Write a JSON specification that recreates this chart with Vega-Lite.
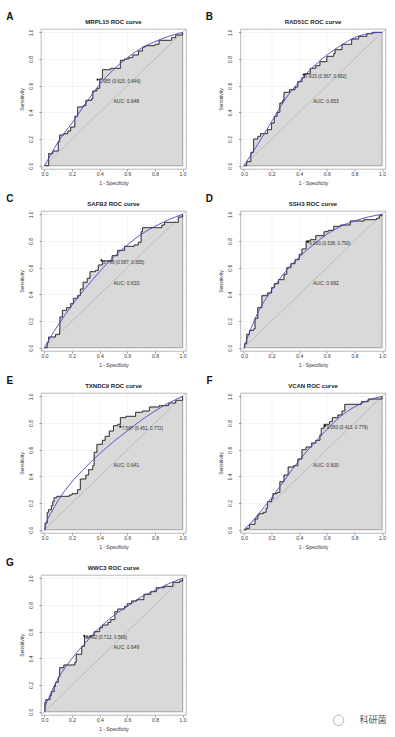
{
"$schema": "https://vega.github.io/schema/vega-lite/v6.json",
"background": "white",
"padding": {"left": 5, "top": 11, "right": 0, "bottom": 0},
"data": {"values": [
{"g":"MRPL15","k":"s","x":0,"y":0},{"g":"MRPL15","k":"s","x":0.03,"y":0.09},{"g":"MRPL15","k":"s","x":0.06,"y":0.11},{"g":"MRPL15","k":"s","x":0.1,"y":0.18},{"g":"MRPL15","k":"s","x":0.11,"y":0.23},{"g":"MRPL15","k":"s","x":0.14,"y":0.24},{"g":"MRPL15","k":"s","x":0.17,"y":0.26},{"g":"MRPL15","k":"s","x":0.19,"y":0.29},{"g":"MRPL15","k":"s","x":0.22,"y":0.37},{"g":"MRPL15","k":"s","x":0.24,"y":0.44},{"g":"MRPL15","k":"s","x":0.28,"y":0.45},{"g":"MRPL15","k":"s","x":0.3,"y":0.49},{"g":"MRPL15","k":"s","x":0.34,"y":0.5},{"g":"MRPL15","k":"s","x":0.35,"y":0.56},{"g":"MRPL15","k":"s","x":0.38,"y":0.58},{"g":"MRPL15","k":"s","x":0.4,"y":0.65},{"g":"MRPL15","k":"s","x":0.42,"y":0.72},{"g":"MRPL15","k":"s","x":0.48,"y":0.73},{"g":"MRPL15","k":"s","x":0.55,"y":0.79},{"g":"MRPL15","k":"s","x":0.58,"y":0.8},{"g":"MRPL15","k":"s","x":0.61,"y":0.81},{"g":"MRPL15","k":"s","x":0.64,"y":0.83},{"g":"MRPL15","k":"s","x":0.68,"y":0.86},{"g":"MRPL15","k":"s","x":0.71,"y":0.89},{"g":"MRPL15","k":"s","x":0.73,"y":0.9},{"g":"MRPL15","k":"s","x":0.8,"y":0.91},{"g":"MRPL15","k":"s","x":0.83,"y":0.94},{"g":"MRPL15","k":"s","x":0.92,"y":0.96},{"g":"MRPL15","k":"s","x":0.95,"y":0.98},{"g":"MRPL15","k":"s","x":1,"y":1},
{"g":"MRPL15","k":"m","x":0,"y":0},{"g":"MRPL15","k":"m","x":0.05,"y":0.09},{"g":"MRPL15","k":"m","x":0.1,"y":0.18},{"g":"MRPL15","k":"m","x":0.2,"y":0.32},{"g":"MRPL15","k":"m","x":0.3,"y":0.47},{"g":"MRPL15","k":"m","x":0.4,"y":0.61},{"g":"MRPL15","k":"m","x":0.5,"y":0.72},{"g":"MRPL15","k":"m","x":0.6,"y":0.81},{"g":"MRPL15","k":"m","x":0.7,"y":0.88},{"g":"MRPL15","k":"m","x":0.8,"y":0.93},{"g":"MRPL15","k":"m","x":0.9,"y":0.97},{"g":"MRPL15","k":"m","x":1,"y":1},
{"g":"MRPL15","k":"t","x":0.385,"y":0.646,"t":"7.955 (0.615, 0.646)"},{"g":"MRPL15","k":"a","x":0.5,"y":0.5,"t":"AUC: 0.648"},{"g":"MRPL15","k":"l","t":"A"},{"g":"MRPL15","k":"h","t":"MRPL15 ROC curve"},

{"g":"RAD51C","k":"s","x":0,"y":0},{"g":"RAD51C","k":"s","x":0.02,"y":0.03},{"g":"RAD51C","k":"s","x":0.05,"y":0.1},{"g":"RAD51C","k":"s","x":0.07,"y":0.2},{"g":"RAD51C","k":"s","x":0.1,"y":0.22},{"g":"RAD51C","k":"s","x":0.12,"y":0.24},{"g":"RAD51C","k":"s","x":0.17,"y":0.27},{"g":"RAD51C","k":"s","x":0.2,"y":0.32},{"g":"RAD51C","k":"s","x":0.22,"y":0.37},{"g":"RAD51C","k":"s","x":0.24,"y":0.4},{"g":"RAD51C","k":"s","x":0.26,"y":0.47},{"g":"RAD51C","k":"s","x":0.28,"y":0.49},{"g":"RAD51C","k":"s","x":0.29,"y":0.55},{"g":"RAD51C","k":"s","x":0.33,"y":0.57},{"g":"RAD51C","k":"s","x":0.37,"y":0.59},{"g":"RAD51C","k":"s","x":0.39,"y":0.63},{"g":"RAD51C","k":"s","x":0.42,"y":0.66},{"g":"RAD51C","k":"s","x":0.44,"y":0.69},{"g":"RAD51C","k":"s","x":0.48,"y":0.73},{"g":"RAD51C","k":"s","x":0.52,"y":0.75},{"g":"RAD51C","k":"s","x":0.55,"y":0.78},{"g":"RAD51C","k":"s","x":0.6,"y":0.82},{"g":"RAD51C","k":"s","x":0.65,"y":0.84},{"g":"RAD51C","k":"s","x":0.66,"y":0.87},{"g":"RAD51C","k":"s","x":0.71,"y":0.91},{"g":"RAD51C","k":"s","x":0.78,"y":0.95},{"g":"RAD51C","k":"s","x":0.83,"y":0.97},{"g":"RAD51C","k":"s","x":0.89,"y":0.99},{"g":"RAD51C","k":"s","x":0.93,"y":1},{"g":"RAD51C","k":"s","x":1,"y":1},
{"g":"RAD51C","k":"m","x":0,"y":0},{"g":"RAD51C","k":"m","x":0.05,"y":0.08},{"g":"RAD51C","k":"m","x":0.1,"y":0.16},{"g":"RAD51C","k":"m","x":0.2,"y":0.33},{"g":"RAD51C","k":"m","x":0.3,"y":0.5},{"g":"RAD51C","k":"m","x":0.4,"y":0.63},{"g":"RAD51C","k":"m","x":0.5,"y":0.74},{"g":"RAD51C","k":"m","x":0.6,"y":0.83},{"g":"RAD51C","k":"m","x":0.7,"y":0.9},{"g":"RAD51C","k":"m","x":0.8,"y":0.96},{"g":"RAD51C","k":"m","x":0.9,"y":0.99},{"g":"RAD51C","k":"m","x":1,"y":1},
{"g":"RAD51C","k":"t","x":0.433,"y":0.682,"t":"7.915 (0.567, 0.682)"},{"g":"RAD51C","k":"a","x":0.5,"y":0.5,"t":"AUC: 0.653"},{"g":"RAD51C","k":"l","t":"B"},{"g":"RAD51C","k":"h","t":"RAD51C ROC curve"},

{"g":"SAFB2","k":"s","x":0,"y":0},{"g":"SAFB2","k":"s","x":0.02,"y":0.04},{"g":"SAFB2","k":"s","x":0.03,"y":0.08},{"g":"SAFB2","k":"s","x":0.08,"y":0.1},{"g":"SAFB2","k":"s","x":0.11,"y":0.14},{"g":"SAFB2","k":"s","x":0.112,"y":0.23},{"g":"SAFB2","k":"s","x":0.13,"y":0.28},{"g":"SAFB2","k":"s","x":0.16,"y":0.3},{"g":"SAFB2","k":"s","x":0.19,"y":0.33},{"g":"SAFB2","k":"s","x":0.21,"y":0.37},{"g":"SAFB2","k":"s","x":0.24,"y":0.39},{"g":"SAFB2","k":"s","x":0.26,"y":0.44},{"g":"SAFB2","k":"s","x":0.28,"y":0.49},{"g":"SAFB2","k":"s","x":0.31,"y":0.52},{"g":"SAFB2","k":"s","x":0.33,"y":0.57},{"g":"SAFB2","k":"s","x":0.37,"y":0.58},{"g":"SAFB2","k":"s","x":0.39,"y":0.62},{"g":"SAFB2","k":"s","x":0.42,"y":0.65},{"g":"SAFB2","k":"s","x":0.49,"y":0.69},{"g":"SAFB2","k":"s","x":0.53,"y":0.73},{"g":"SAFB2","k":"s","x":0.58,"y":0.76},{"g":"SAFB2","k":"s","x":0.65,"y":0.77},{"g":"SAFB2","k":"s","x":0.68,"y":0.79},{"g":"SAFB2","k":"s","x":0.7,"y":0.87},{"g":"SAFB2","k":"s","x":0.71,"y":0.9},{"g":"SAFB2","k":"s","x":0.85,"y":0.92},{"g":"SAFB2","k":"s","x":0.87,"y":0.94},{"g":"SAFB2","k":"s","x":0.97,"y":0.98},{"g":"SAFB2","k":"s","x":1,"y":1},
{"g":"SAFB2","k":"m","x":0,"y":0},{"g":"SAFB2","k":"m","x":0.05,"y":0.09},{"g":"SAFB2","k":"m","x":0.1,"y":0.17},{"g":"SAFB2","k":"m","x":0.2,"y":0.32},{"g":"SAFB2","k":"m","x":0.3,"y":0.45},{"g":"SAFB2","k":"m","x":0.4,"y":0.57},{"g":"SAFB2","k":"m","x":0.5,"y":0.68},{"g":"SAFB2","k":"m","x":0.6,"y":0.77},{"g":"SAFB2","k":"m","x":0.7,"y":0.85},{"g":"SAFB2","k":"m","x":0.8,"y":0.91},{"g":"SAFB2","k":"m","x":0.9,"y":0.96},{"g":"SAFB2","k":"m","x":1,"y":1},
{"g":"SAFB2","k":"t","x":0.413,"y":0.655,"t":"5.798 (0.587, 0.655)"},{"g":"SAFB2","k":"a","x":0.5,"y":0.5,"t":"AUC: 0.633"},{"g":"SAFB2","k":"l","t":"C"},{"g":"SAFB2","k":"h","t":"SAFB2 ROC curve"},

{"g":"SSH3","k":"s","x":0,"y":0},{"g":"SSH3","k":"s","x":0.005,"y":0.03},{"g":"SSH3","k":"s","x":0.02,"y":0.1},{"g":"SSH3","k":"s","x":0.04,"y":0.13},{"g":"SSH3","k":"s","x":0.07,"y":0.14},{"g":"SSH3","k":"s","x":0.08,"y":0.22},{"g":"SSH3","k":"s","x":0.1,"y":0.3},{"g":"SSH3","k":"s","x":0.13,"y":0.39},{"g":"SSH3","k":"s","x":0.17,"y":0.41},{"g":"SSH3","k":"s","x":0.2,"y":0.45},{"g":"SSH3","k":"s","x":0.22,"y":0.48},{"g":"SSH3","k":"s","x":0.25,"y":0.51},{"g":"SSH3","k":"s","x":0.29,"y":0.55},{"g":"SSH3","k":"s","x":0.31,"y":0.6},{"g":"SSH3","k":"s","x":0.34,"y":0.63},{"g":"SSH3","k":"s","x":0.37,"y":0.66},{"g":"SSH3","k":"s","x":0.4,"y":0.7},{"g":"SSH3","k":"s","x":0.42,"y":0.74},{"g":"SSH3","k":"s","x":0.45,"y":0.8},{"g":"SSH3","k":"s","x":0.48,"y":0.81},{"g":"SSH3","k":"s","x":0.52,"y":0.84},{"g":"SSH3","k":"s","x":0.58,"y":0.87},{"g":"SSH3","k":"s","x":0.61,"y":0.88},{"g":"SSH3","k":"s","x":0.65,"y":0.91},{"g":"SSH3","k":"s","x":0.7,"y":0.92},{"g":"SSH3","k":"s","x":0.77,"y":0.95},{"g":"SSH3","k":"s","x":0.87,"y":0.96},{"g":"SSH3","k":"s","x":0.96,"y":0.97},{"g":"SSH3","k":"s","x":0.98,"y":0.99},{"g":"SSH3","k":"s","x":1,"y":1},
{"g":"SSH3","k":"m","x":0,"y":0},{"g":"SSH3","k":"m","x":0.02,"y":0.06},{"g":"SSH3","k":"m","x":0.05,"y":0.14},{"g":"SSH3","k":"m","x":0.1,"y":0.26},{"g":"SSH3","k":"m","x":0.2,"y":0.43},{"g":"SSH3","k":"m","x":0.3,"y":0.57},{"g":"SSH3","k":"m","x":0.4,"y":0.68},{"g":"SSH3","k":"m","x":0.5,"y":0.77},{"g":"SSH3","k":"m","x":0.6,"y":0.85},{"g":"SSH3","k":"m","x":0.7,"y":0.91},{"g":"SSH3","k":"m","x":0.8,"y":0.95},{"g":"SSH3","k":"m","x":0.9,"y":0.98},{"g":"SSH3","k":"m","x":1,"y":1},
{"g":"SSH3","k":"t","x":0.462,"y":0.793,"t":"6.963 (0.538, 0.793)"},{"g":"SSH3","k":"a","x":0.5,"y":0.5,"t":"AUC: 0.692"},{"g":"SSH3","k":"l","t":"D"},{"g":"SSH3","k":"h","t":"SSH3 ROC curve"},

{"g":"TXNDC9","k":"s","x":0,"y":0},{"g":"TXNDC9","k":"s","x":0.005,"y":0.05},{"g":"TXNDC9","k":"s","x":0.02,"y":0.13},{"g":"TXNDC9","k":"s","x":0.03,"y":0.15},{"g":"TXNDC9","k":"s","x":0.05,"y":0.18},{"g":"TXNDC9","k":"s","x":0.06,"y":0.21},{"g":"TXNDC9","k":"s","x":0.07,"y":0.24},{"g":"TXNDC9","k":"s","x":0.09,"y":0.25},{"g":"TXNDC9","k":"s","x":0.18,"y":0.26},{"g":"TXNDC9","k":"s","x":0.2,"y":0.27},{"g":"TXNDC9","k":"s","x":0.24,"y":0.3},{"g":"TXNDC9","k":"s","x":0.26,"y":0.38},{"g":"TXNDC9","k":"s","x":0.3,"y":0.41},{"g":"TXNDC9","k":"s","x":0.32,"y":0.45},{"g":"TXNDC9","k":"s","x":0.35,"y":0.48},{"g":"TXNDC9","k":"s","x":0.36,"y":0.58},{"g":"TXNDC9","k":"s","x":0.38,"y":0.64},{"g":"TXNDC9","k":"s","x":0.42,"y":0.67},{"g":"TXNDC9","k":"s","x":0.44,"y":0.7},{"g":"TXNDC9","k":"s","x":0.47,"y":0.74},{"g":"TXNDC9","k":"s","x":0.5,"y":0.78},{"g":"TXNDC9","k":"s","x":0.53,"y":0.79},{"g":"TXNDC9","k":"s","x":0.55,"y":0.84},{"g":"TXNDC9","k":"s","x":0.59,"y":0.85},{"g":"TXNDC9","k":"s","x":0.66,"y":0.88},{"g":"TXNDC9","k":"s","x":0.71,"y":0.89},{"g":"TXNDC9","k":"s","x":0.76,"y":0.92},{"g":"TXNDC9","k":"s","x":0.83,"y":0.93},{"g":"TXNDC9","k":"s","x":0.9,"y":0.95},{"g":"TXNDC9","k":"s","x":0.95,"y":0.97},{"g":"TXNDC9","k":"s","x":1,"y":1},
{"g":"TXNDC9","k":"m","x":0,"y":0},{"g":"TXNDC9","k":"m","x":0.02,"y":0.07},{"g":"TXNDC9","k":"m","x":0.05,"y":0.13},{"g":"TXNDC9","k":"m","x":0.1,"y":0.22},{"g":"TXNDC9","k":"m","x":0.2,"y":0.36},{"g":"TXNDC9","k":"m","x":0.3,"y":0.47},{"g":"TXNDC9","k":"m","x":0.4,"y":0.57},{"g":"TXNDC9","k":"m","x":0.5,"y":0.66},{"g":"TXNDC9","k":"m","x":0.6,"y":0.74},{"g":"TXNDC9","k":"m","x":0.7,"y":0.82},{"g":"TXNDC9","k":"m","x":0.8,"y":0.89},{"g":"TXNDC9","k":"m","x":0.9,"y":0.95},{"g":"TXNDC9","k":"m","x":1,"y":1},
{"g":"TXNDC9","k":"t","x":0.549,"y":0.772,"t":"7.587 (0.451, 0.772)"},{"g":"TXNDC9","k":"a","x":0.5,"y":0.5,"t":"AUC: 0.641"},{"g":"TXNDC9","k":"l","t":"E"},{"g":"TXNDC9","k":"h","t":"TXNDC9 ROC curve"},

{"g":"VCAN","k":"s","x":0,"y":0},{"g":"VCAN","k":"s","x":0.02,"y":0.01},{"g":"VCAN","k":"s","x":0.04,"y":0.04},{"g":"VCAN","k":"s","x":0.08,"y":0.08},{"g":"VCAN","k":"s","x":0.1,"y":0.11},{"g":"VCAN","k":"s","x":0.11,"y":0.12},{"g":"VCAN","k":"s","x":0.14,"y":0.13},{"g":"VCAN","k":"s","x":0.16,"y":0.16},{"g":"VCAN","k":"s","x":0.17,"y":0.21},{"g":"VCAN","k":"s","x":0.2,"y":0.23},{"g":"VCAN","k":"s","x":0.21,"y":0.27},{"g":"VCAN","k":"s","x":0.24,"y":0.28},{"g":"VCAN","k":"s","x":0.26,"y":0.36},{"g":"VCAN","k":"s","x":0.29,"y":0.41},{"g":"VCAN","k":"s","x":0.32,"y":0.47},{"g":"VCAN","k":"s","x":0.36,"y":0.48},{"g":"VCAN","k":"s","x":0.39,"y":0.53},{"g":"VCAN","k":"s","x":0.42,"y":0.6},{"g":"VCAN","k":"s","x":0.45,"y":0.62},{"g":"VCAN","k":"s","x":0.49,"y":0.65},{"g":"VCAN","k":"s","x":0.52,"y":0.67},{"g":"VCAN","k":"s","x":0.55,"y":0.71},{"g":"VCAN","k":"s","x":0.56,"y":0.76},{"g":"VCAN","k":"s","x":0.58,"y":0.79},{"g":"VCAN","k":"s","x":0.62,"y":0.81},{"g":"VCAN","k":"s","x":0.64,"y":0.84},{"g":"VCAN","k":"s","x":0.68,"y":0.86},{"g":"VCAN","k":"s","x":0.71,"y":0.89},{"g":"VCAN","k":"s","x":0.73,"y":0.94},{"g":"VCAN","k":"s","x":0.85,"y":0.96},{"g":"VCAN","k":"s","x":0.9,"y":0.98},{"g":"VCAN","k":"s","x":1,"y":1},
{"g":"VCAN","k":"m","x":0,"y":0},{"g":"VCAN","k":"m","x":0.05,"y":0.05},{"g":"VCAN","k":"m","x":0.1,"y":0.11},{"g":"VCAN","k":"m","x":0.2,"y":0.24},{"g":"VCAN","k":"m","x":0.3,"y":0.38},{"g":"VCAN","k":"m","x":0.4,"y":0.52},{"g":"VCAN","k":"m","x":0.5,"y":0.64},{"g":"VCAN","k":"m","x":0.6,"y":0.75},{"g":"VCAN","k":"m","x":0.7,"y":0.85},{"g":"VCAN","k":"m","x":0.8,"y":0.92},{"g":"VCAN","k":"m","x":0.9,"y":0.97},{"g":"VCAN","k":"m","x":1,"y":1},
{"g":"VCAN","k":"t","x":0.587,"y":0.779,"t":"9.083 (0.413, 0.779)"},{"g":"VCAN","k":"a","x":0.5,"y":0.5,"t":"AUC: 0.600"},{"g":"VCAN","k":"l","t":"F"},{"g":"VCAN","k":"h","t":"VCAN ROC curve"},

{"g":"WWC3","k":"s","x":0,"y":0},{"g":"WWC3","k":"s","x":0.003,"y":0.07},{"g":"WWC3","k":"s","x":0.01,"y":0.09},{"g":"WWC3","k":"s","x":0.04,"y":0.12},{"g":"WWC3","k":"s","x":0.05,"y":0.15},{"g":"WWC3","k":"s","x":0.07,"y":0.19},{"g":"WWC3","k":"s","x":0.08,"y":0.22},{"g":"WWC3","k":"s","x":0.1,"y":0.26},{"g":"WWC3","k":"s","x":0.11,"y":0.33},{"g":"WWC3","k":"s","x":0.14,"y":0.35},{"g":"WWC3","k":"s","x":0.22,"y":0.37},{"g":"WWC3","k":"s","x":0.23,"y":0.43},{"g":"WWC3","k":"s","x":0.27,"y":0.49},{"g":"WWC3","k":"s","x":0.29,"y":0.56},{"g":"WWC3","k":"s","x":0.33,"y":0.57},{"g":"WWC3","k":"s","x":0.36,"y":0.6},{"g":"WWC3","k":"s","x":0.4,"y":0.63},{"g":"WWC3","k":"s","x":0.42,"y":0.65},{"g":"WWC3","k":"s","x":0.46,"y":0.67},{"g":"WWC3","k":"s","x":0.48,"y":0.69},{"g":"WWC3","k":"s","x":0.51,"y":0.75},{"g":"WWC3","k":"s","x":0.53,"y":0.77},{"g":"WWC3","k":"s","x":0.58,"y":0.79},{"g":"WWC3","k":"s","x":0.6,"y":0.81},{"g":"WWC3","k":"s","x":0.63,"y":0.83},{"g":"WWC3","k":"s","x":0.67,"y":0.84},{"g":"WWC3","k":"s","x":0.72,"y":0.88},{"g":"WWC3","k":"s","x":0.77,"y":0.9},{"g":"WWC3","k":"s","x":0.81,"y":0.93},{"g":"WWC3","k":"s","x":0.87,"y":0.94},{"g":"WWC3","k":"s","x":0.93,"y":0.97},{"g":"WWC3","k":"s","x":0.98,"y":0.98},{"g":"WWC3","k":"s","x":1,"y":1},
{"g":"WWC3","k":"m","x":0,"y":0},{"g":"WWC3","k":"m","x":0.01,"y":0.05},{"g":"WWC3","k":"m","x":0.03,"y":0.1},{"g":"WWC3","k":"m","x":0.06,"y":0.17},{"g":"WWC3","k":"m","x":0.1,"y":0.25},{"g":"WWC3","k":"m","x":0.2,"y":0.4},{"g":"WWC3","k":"m","x":0.3,"y":0.52},{"g":"WWC3","k":"m","x":0.4,"y":0.63},{"g":"WWC3","k":"m","x":0.5,"y":0.72},{"g":"WWC3","k":"m","x":0.6,"y":0.79},{"g":"WWC3","k":"m","x":0.7,"y":0.86},{"g":"WWC3","k":"m","x":0.8,"y":0.91},{"g":"WWC3","k":"m","x":0.9,"y":0.96},{"g":"WWC3","k":"m","x":1,"y":1},
{"g":"WWC3","k":"t","x":0.288,"y":0.569,"t":"5.492 (0.712, 0.569)"},{"g":"WWC3","k":"a","x":0.5,"y":0.5,"t":"AUC: 0.649"},{"g":"WWC3","k":"l","t":"G"},{"g":"WWC3","k":"h","t":"WWC3 ROC curve"},{"g":"WWC3","k":"w","t":"科研菌"}
]},
"facet": {"field": "g", "type": "nominal", "header": {"title": null, "labels": false, "labelExpr": "''", "labelFontSize": 0.1, "labelPadding": 0}},
"columns": 2,
"spacing": {"row": 42, "column": 54.5},
"bounds": "flush",
"resolve": {"scale": {"x": "independent", "y": "independent"}, "axis": {"x": "independent", "y": "independent"}},
"spec": {
  "width": 145,
  "height": 140,
  "layer": [
    {"transform": [{"filter": "datum.k == 's'"}], "mark": {"type": "area", "interpolate": "step-after", "fill": "#d9d9d9", "stroke": "#8a8a8a", "strokeWidth": 0.7},
     "encoding": {
      "x": {"field": "x", "type": "quantitative", "scale": {"domain": [-0.025, 1.025], "nice": false, "zero": false}, "axis": {"title": "1 - Specificity", "values": [0, 0.2, 0.4, 0.6, 0.8, 1], "format": ".1f", "labelOverlap": false}},
      "y": {"field": "y", "type": "quantitative", "scale": {"domain": [-0.025, 1.025], "nice": false, "zero": false}, "axis": {"title": "Sensitivity", "values": [0, 0.2, 0.4, 0.6, 0.8, 1], "format": ".1f", "labelOverlap": false}},
      "y2": {"datum": 0}}},
    {"transform": [{"filter": "datum.k == 't'"}], "mark": {"type": "rule", "color": "#a8a8a8", "strokeWidth": 0.6},
     "encoding": {
      "x": {"datum": -0.025, "type": "quantitative", "scale": {"domain": [-0.025, 1.025], "nice": false, "zero": false}, "axis": {"title": "1 - Specificity", "values": [0, 0.2, 0.4, 0.6, 0.8, 1], "format": ".1f", "labelOverlap": false}},
      "y": {"datum": -0.025, "type": "quantitative", "scale": {"domain": [-0.025, 1.025], "nice": false, "zero": false}, "axis": {"title": "Sensitivity", "values": [0, 0.2, 0.4, 0.6, 0.8, 1], "format": ".1f", "labelOverlap": false}},
      "x2": {"datum": 1.025}, "y2": {"datum": 1.025}}},
    {"transform": [{"filter": "datum.k == 's'"}], "mark": {"type": "line", "interpolate": "step-after", "color": "#222222", "strokeWidth": 0.8},
     "encoding": {
      "x": {"field": "x", "type": "quantitative", "scale": {"domain": [-0.025, 1.025], "nice": false, "zero": false}, "axis": {"title": "1 - Specificity", "values": [0, 0.2, 0.4, 0.6, 0.8, 1], "format": ".1f", "labelOverlap": false}},
      "y": {"field": "y", "type": "quantitative", "scale": {"domain": [-0.025, 1.025], "nice": false, "zero": false}, "axis": {"title": "Sensitivity", "values": [0, 0.2, 0.4, 0.6, 0.8, 1], "format": ".1f", "labelOverlap": false}}}},
    {"transform": [{"filter": "datum.k == 'm'"}], "mark": {"type": "line", "interpolate": "monotone", "color": "#4646c8", "strokeWidth": 0.9},
     "encoding": {
      "x": {"field": "x", "type": "quantitative", "scale": {"domain": [-0.025, 1.025], "nice": false, "zero": false}, "axis": {"title": "1 - Specificity", "values": [0, 0.2, 0.4, 0.6, 0.8, 1], "format": ".1f", "labelOverlap": false}},
      "y": {"field": "y", "type": "quantitative", "scale": {"domain": [-0.025, 1.025], "nice": false, "zero": false}, "axis": {"title": "Sensitivity", "values": [0, 0.2, 0.4, 0.6, 0.8, 1], "format": ".1f", "labelOverlap": false}}}},
    {"transform": [{"filter": "datum.k == 't'"}], "mark": {"type": "point", "filled": true, "color": "#111111", "size": 5, "opacity": 1},
     "encoding": {
      "x": {"field": "x", "type": "quantitative", "scale": {"domain": [-0.025, 1.025], "nice": false, "zero": false}, "axis": {"title": "1 - Specificity", "values": [0, 0.2, 0.4, 0.6, 0.8, 1], "format": ".1f", "labelOverlap": false}},
      "y": {"field": "y", "type": "quantitative", "scale": {"domain": [-0.025, 1.025], "nice": false, "zero": false}, "axis": {"title": "Sensitivity", "values": [0, 0.2, 0.4, 0.6, 0.8, 1], "format": ".1f", "labelOverlap": false}}}},
    {"transform": [{"filter": "datum.k == 't'"}], "mark": {"type": "text", "align": "left", "baseline": "middle", "dx": 1.5, "dy": 2.5, "fontSize": 4.6, "color": "#333333"},
     "encoding": {
      "x": {"field": "x", "type": "quantitative", "scale": {"domain": [-0.025, 1.025], "nice": false, "zero": false}, "axis": {"title": "1 - Specificity", "values": [0, 0.2, 0.4, 0.6, 0.8, 1], "format": ".1f", "labelOverlap": false}},
      "y": {"field": "y", "type": "quantitative", "scale": {"domain": [-0.025, 1.025], "nice": false, "zero": false}, "axis": {"title": "Sensitivity", "values": [0, 0.2, 0.4, 0.6, 0.8, 1], "format": ".1f", "labelOverlap": false}},
      "text": {"field": "t"}}},
    {"transform": [{"filter": "datum.k == 'a'"}], "mark": {"type": "text", "align": "left", "baseline": "middle", "dy": 1.5, "fontSize": 5, "color": "#333333"},
     "encoding": {
      "x": {"field": "x", "type": "quantitative", "scale": {"domain": [-0.025, 1.025], "nice": false, "zero": false}, "axis": {"title": "1 - Specificity", "values": [0, 0.2, 0.4, 0.6, 0.8, 1], "format": ".1f", "labelOverlap": false}},
      "y": {"field": "y", "type": "quantitative", "scale": {"domain": [-0.025, 1.025], "nice": false, "zero": false}, "axis": {"title": "Sensitivity", "values": [0, 0.2, 0.4, 0.6, 0.8, 1], "format": ".1f", "labelOverlap": false}},
      "text": {"field": "t"}}},
    {"transform": [{"filter": "datum.k == 'h'"}], "mark": {"type": "text", "align": "center", "baseline": "middle", "fontSize": 6, "fontWeight": "bold", "color": "#222222"},
     "encoding": {
      "x": {"datum": 0.5, "type": "quantitative", "scale": {"domain": [-0.025, 1.025], "nice": false, "zero": false}, "axis": {"title": "1 - Specificity", "values": [0, 0.2, 0.4, 0.6, 0.8, 1], "format": ".1f", "labelOverlap": false}},
      "y": {"datum": 1.075, "type": "quantitative", "scale": {"domain": [-0.025, 1.025], "nice": false, "zero": false}, "axis": {"title": "Sensitivity", "values": [0, 0.2, 0.4, 0.6, 0.8, 1], "format": ".1f", "labelOverlap": false}},
      "text": {"field": "t"}}},
    {"transform": [{"filter": "datum.k == 'l'"}], "mark": {"type": "text", "align": "center", "baseline": "middle", "fontSize": 10, "fontWeight": "bold", "color": "#111111"},
     "encoding": {
      "x": {"datum": -0.25, "type": "quantitative", "scale": {"domain": [-0.025, 1.025], "nice": false, "zero": false}, "axis": {"title": "1 - Specificity", "values": [0, 0.2, 0.4, 0.6, 0.8, 1], "format": ".1f", "labelOverlap": false}},
      "y": {"datum": 1.115, "type": "quantitative", "scale": {"domain": [-0.025, 1.025], "nice": false, "zero": false}, "axis": {"title": "Sensitivity", "values": [0, 0.2, 0.4, 0.6, 0.8, 1], "format": ".1f", "labelOverlap": false}},
      "text": {"field": "t"}}},
    {"transform": [{"filter": "datum.k == 'w'"}], "mark": {"type": "point", "shape": "circle", "filled": false, "color": "#9a9a9a", "strokeWidth": 1, "size": 110},
     "encoding": {
      "x": {"datum": 2.13, "type": "quantitative", "scale": {"domain": [-0.025, 1.025], "nice": false, "zero": false}, "axis": {"title": "1 - Specificity", "values": [0, 0.2, 0.4, 0.6, 0.8, 1], "format": ".1f", "labelOverlap": false}},
      "y": {"datum": -0.065, "type": "quantitative", "scale": {"domain": [-0.025, 1.025], "nice": false, "zero": false}, "axis": {"title": "Sensitivity", "values": [0, 0.2, 0.4, 0.6, 0.8, 1], "format": ".1f", "labelOverlap": false}}}},
    {"transform": [{"filter": "datum.k == 'w'"}], "mark": {"type": "text", "align": "center", "baseline": "middle", "fontSize": 9, "font": "Noto Sans CJK SC", "color": "#555555"},
     "encoding": {
      "x": {"datum": 2.38, "type": "quantitative", "scale": {"domain": [-0.025, 1.025], "nice": false, "zero": false}, "axis": {"title": "1 - Specificity", "values": [0, 0.2, 0.4, 0.6, 0.8, 1], "format": ".1f", "labelOverlap": false}},
      "y": {"datum": -0.065, "type": "quantitative", "scale": {"domain": [-0.025, 1.025], "nice": false, "zero": false}, "axis": {"title": "Sensitivity", "values": [0, 0.2, 0.4, 0.6, 0.8, 1], "format": ".1f", "labelOverlap": false}},
      "text": {"field": "t"}}}
  ]
},
"config": {
  "font": "Liberation Sans",
  "mark": {"invalid": "show"},
  "header": {"labels": false, "title": null},
  "view": {"stroke": "#9a9a9a", "strokeWidth": 0.7},
  "axis": {"domain": false, "labelOverlap": false, "labelFlush": false, "tickColor": "#555555", "tickSize": 2, "tickWidth": 0.6, "labelFontSize": 5, "labelColor": "#333333", "titleFontSize": 5, "titleFontWeight": "normal", "titleColor": "#333333", "gridColor": "#ececec", "gridWidth": 0.6, "labelFont": "Liberation Sans", "titleFont": "Liberation Sans"},
  "axisX": {"labelPadding": 0.5, "titlePadding": 4},
  "axisY": {"labelAngle": -90, "labelAlign": "center", "labelBaseline": "bottom", "labelPadding": 6, "titlePadding": 4}
}
}
